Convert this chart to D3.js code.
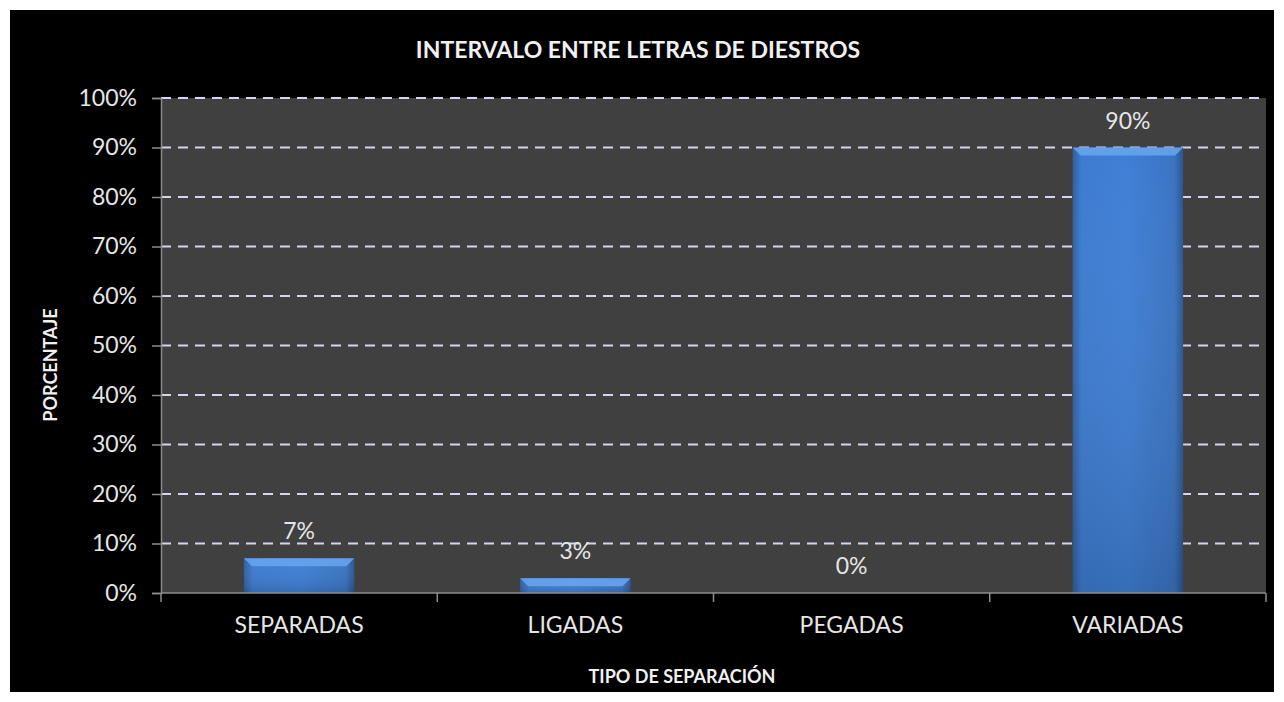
<!DOCTYPE html>
<html><head><meta charset="utf-8">
<script src="https://cdn.jsdelivr.net/npm/d3@7"></script>
<style>html,body{margin:0;padding:0;background:#fff;}svg{display:block;}</style>
</head><body>
<svg id="chart" width="1284" height="702"></svg>
<script>
const categories = ["SEPARADAS", "LIGADAS", "PEGADAS", "VARIADAS"];
const values = [7, 3, 0, 90];
const yTicks = [0, 10, 20, 30, 40, 50, 60, 70, 80, 90, 100];
const title = "INTERVALO ENTRE LETRAS DE DIESTROS";
const xTitle = "TIPO DE SEPARACIÓN";
const yTitle = "PORCENTAJE";

const svg = d3.select("#chart");
const font = "Lato, 'Open Sans', sans-serif";
svg.append("rect").attr("x", 10).attr("y", 10).attr("width", 1264).attr("height", 682).attr("fill", "#000");

const plot = {left: 161, top: 98, right: 1266, bottom: 593};
const x = d3.scaleBand().domain(categories).range([plot.left, plot.right]).paddingInner(0.6).paddingOuter(0.3);
const y = d3.scaleLinear().domain([0, 100]).range([plot.bottom, plot.top]);

svg.append("rect").attr("x", plot.left).attr("y", plot.top).attr("width", plot.right - plot.left).attr("height", plot.bottom - plot.top).attr("fill", "#404040");

const defs = svg.append("defs");
const g1 = defs.append("linearGradient").attr("id", "barGrad").attr("x1", 0).attr("x2", 1).attr("y1", 0).attr("y2", 0);
g1.append("stop").attr("offset", "0%").attr("stop-color", "#2f5f9e");
g1.append("stop").attr("offset", "8%").attr("stop-color", "#3d7bd0");
g1.append("stop").attr("offset", "50%").attr("stop-color", "#3f7fd6");
g1.append("stop").attr("offset", "92%").attr("stop-color", "#3a73c2");
g1.append("stop").attr("offset", "100%").attr("stop-color", "#2a5590");
const g2 = defs.append("linearGradient").attr("id", "barV").attr("x1", 0).attr("x2", 0).attr("y1", 0).attr("y2", 1);
g2.append("stop").attr("offset", "0%").attr("stop-color", "#ffffff").attr("stop-opacity", 0.0);
g2.append("stop").attr("offset", "100%").attr("stop-color", "#000").attr("stop-opacity", 0.14);

// gridlines
svg.append("g").selectAll("line").data(yTicks.filter(d => d > 0)).join("line")
  .attr("x1", plot.left).attr("x2", plot.right)
  .attr("y1", d => y(d)).attr("y2", d => y(d))
  .attr("stroke", "#d4d6ee").attr("stroke-width", 2).attr("stroke-dasharray", "10,7");

// bars
const bars = svg.append("g");
bars.selectAll("rect.b").data(values).join("rect").attr("class", "b")
  .attr("x", (d, i) => x(categories[i])).attr("width", x.bandwidth())
  .attr("y", d => y(d)).attr("height", d => y(0) - y(d))
  .attr("fill", "url(#barGrad)");
bars.selectAll("rect.s").data(values).join("rect").attr("class", "s")
  .attr("x", (d, i) => x(categories[i])).attr("width", x.bandwidth())
  .attr("y", d => y(d)).attr("height", d => y(0) - y(d))
  .attr("fill", "url(#barV)");
// bevel top
bars.selectAll("path.top").data(values).join("path").attr("class", "top")
  .attr("d", (d, i) => {
    const x0 = x(categories[i]), w = x.bandwidth(), y0 = y(d);
    const h = Math.min(8, y(0) - y0);
    if (h <= 0) return "";
    return `M${x0},${y0} L${x0 + w},${y0} L${x0 + w - h},${y0 + h} L${x0 + h},${y0 + h} Z`;
  })
  .attr("fill", "#6aa6ee").attr("opacity", 0.85);

// value labels
svg.append("g").selectAll("text").data(values).join("text")
  .attr("x", (d, i) => x(categories[i]) + x.bandwidth() / 2)
  .attr("y", d => y(d) - 19)
  .attr("text-anchor", "middle").attr("fill", "#e6e6e6")
  .style("font-family", font).style("font-size", "23px")
  .text(d => d + "%");

// axes
const yAxis = svg.append("g").attr("transform", `translate(${plot.left},0)`)
  .call(d3.axisLeft(y).tickValues(yTicks).tickFormat(d => d + "%").tickSize(9).tickPadding(15));
const xAxis = svg.append("g").attr("transform", `translate(0,${plot.bottom})`)
  .call(d3.axisBottom(x).tickSize(0).tickPadding(24));
[yAxis, xAxis].forEach(a => {
  a.select(".domain").attr("stroke", "#8c8c8c").attr("stroke-width", 1.5);
  a.selectAll(".tick line").attr("stroke", "#8c8c8c").attr("stroke-width", 1.5);
  a.selectAll("text").attr("fill", "#e6e6e6").style("font-family", font).style("font-size", "23px");
});
xAxis.select(".domain").attr("d", `M${plot.left},0H${plot.right}`);
// category boundary ticks
const bounds = categories.map(c => x(c) - x.step() * x.paddingInner() / 2).slice(1).concat([plot.left, plot.right]);
xAxis.append("g").selectAll("line").data(bounds).join("line")
  .attr("x1", d => d).attr("x2", d => d).attr("y1", 0).attr("y2", 9)
  .attr("stroke", "#8c8c8c").attr("stroke-width", 1.5);

// titles
svg.append("text").attr("x", 638).attr("y", 58).attr("text-anchor", "middle")
  .attr("fill", "#f0f0f0").style("font-family", font).style("font-weight", "bold").style("font-size", "23px")
  .text(title);
svg.append("text").attr("x", 682).attr("y", 683).attr("text-anchor", "middle")
  .attr("fill", "#f0f0f0").style("font-family", font).style("font-weight", "bold").style("font-size", "18px")
  .text(xTitle);
svg.append("text").attr("transform", "translate(57,365) rotate(-90)").attr("text-anchor", "middle")
  .attr("fill", "#f0f0f0").style("font-family", font).style("font-weight", "bold").style("font-size", "18px")
  .text(yTitle);
</script>
</body></html>
